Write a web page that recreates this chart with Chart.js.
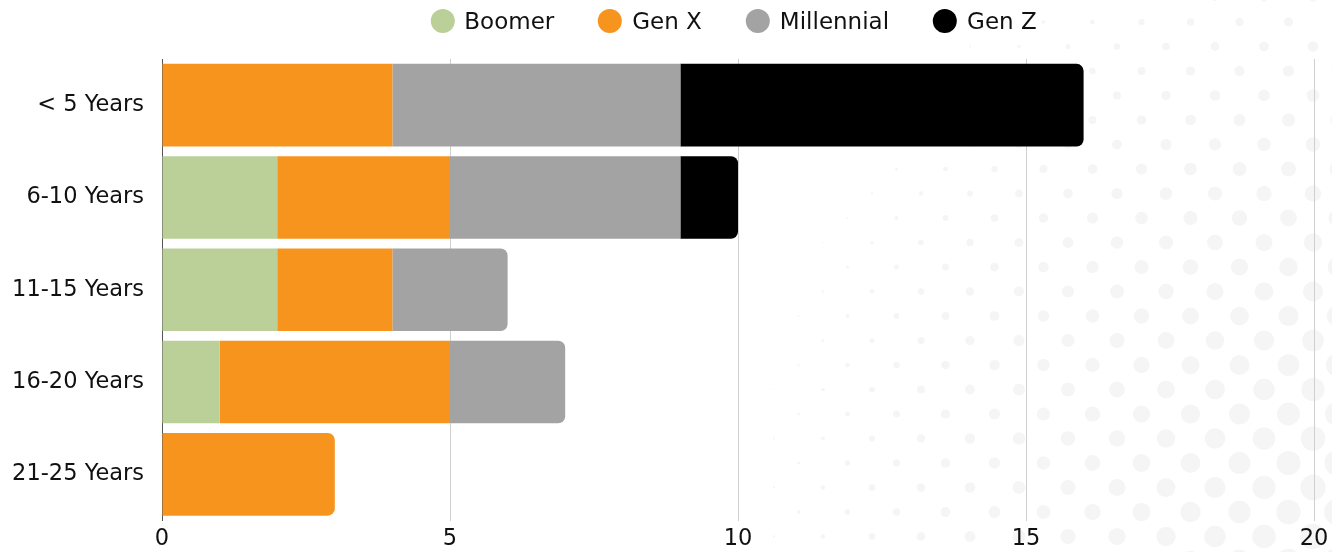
<!DOCTYPE html>
<html>
<head>
<meta charset="utf-8">
<title>Years of Experience by Generation</title>
<script src="https://cdn.jsdelivr.net/npm/chart.js@4.4.1/dist/chart.umd.min.js"></script>
<style>
  html, body { margin: 0; padding: 0; background: #ffffff; }
  #wrap { position: relative; width: 1332px; height: 552px; overflow: hidden; }
  #bg, #chart { position: absolute; left: 0; top: 0; }
  #legend {
    position: absolute; top: 8px; left: 733.5px; transform: translateX(-50%);
    display: flex; align-items: center; gap: 44px; white-space: nowrap;
    font-family: "DejaVu Sans", sans-serif; font-size: 23px; color: #111111;
    line-height: 26px;
  }
  #legend .item { display: flex; align-items: center; }
  #legend .dot { width: 24px; height: 24px; border-radius: 50%; margin-right: 10px; }
</style>
</head>
<body>
<div id="wrap">
  <canvas id="bg" width="1332" height="552"></canvas>
  <canvas id="chart" width="1332" height="552"></canvas>
  <div id="legend"></div>
</div>
<script>
// Tenure bands (rows) and head counts per generation
const categories = ['< 5 Years', '6-10 Years', '11-15 Years', '16-20 Years', '21-25 Years'];
const seriesNames = ['Boomer', 'Gen X', 'Millennial', 'Gen Z'];
const boomer     = [null, 2, 2, 1, null];
const genX       = [4, 3, 2, 4, 3];
const millennial = [5, 4, 2, 2, null];
const genZ       = [7, 1, null, null, null];
const xTicks     = [0, 5, 10, 15, 20];

const seriesColors = ['#bbcf98', '#f7941e', '#a3a3a3', '#000000'];
const FONT = '"DejaVu Sans", sans-serif';

// Soft halftone texture behind the plot, growing toward the lower right
(function drawHalftone() {
  const c = document.getElementById('bg').getContext('2d');
  c.fillStyle = '#ffffff';
  c.fillRect(0, 0, 1332, 552);
  c.fillStyle = '#f5f5f5';
  const step = 24.5, ox = 1043.5, oy = 169;
  for (let j = -8; j <= 17; j++) {
    for (let i = -24; i <= 14; i++) {
      if ((i + j) % 2 !== 0) continue;
      const x = ox + i * step, y = oy + j * step;
      const d = Math.hypot(1500 - x, 550 - y);
      const r = 16.94 - 0.0217 * d;
      if (r < 0.4) continue;
      c.beginPath();
      c.arc(x, y, r, 0, Math.PI * 2);
      c.fill();
    }
  }
})();

const seriesData = [boomer, genX, millennial, genZ];

const chart = new Chart(document.getElementById('chart'), {
  type: 'bar',
  data: {
    labels: categories,
    datasets: seriesNames.map((name, k) => ({
      label: name,
      data: seriesData[k],
      backgroundColor: seriesColors[k],
      borderWidth: 0,
      borderRadius: 7,
      borderSkipped: 'start',
      barPercentage: 0.895,
      categoryPercentage: 1
    }))
  },
  options: {
    indexAxis: 'y',
    responsive: false,
    animation: false,
    devicePixelRatio: 1,
    layout: { padding: { top: 59, right: 0, bottom: 0, left: 0 } },
    plugins: {
      legend: { display: false },
      tooltip: { enabled: false }
    },
    scales: {
      x: {
        stacked: true,
        min: 0,
        max: 20,
        afterBuildTicks(scale) { scale.ticks = xTicks.map(v => ({ value: v })); },
        grid: { color: '#cfcfcf', lineWidth: 1, drawTicks: false },
        border: { display: false },
        ticks: { color: '#111111', padding: 5, font: { family: FONT, size: 22.5 } },
        afterFit(scale) {
          scale.height = 31;
          scale.paddingLeft = 0;
          scale.paddingRight = 18;
        }
      },
      y: {
        stacked: true,
        grid: { display: false, drawTicks: false },
        border: { display: true, color: '#555555', width: 1 },
        ticks: { color: '#111111', padding: 18, font: { family: FONT, size: 22.5 } },
        afterFit(scale) { scale.width = 162; }
      }
    }
  }
});

// Legend built from the chart's own legend items
(function buildLegend() {
  const box = document.getElementById('legend');
  const items = chart.options.plugins.legend.labels.generateLabels(chart);
  items.forEach(it => {
    const el = document.createElement('div');
    el.className = 'item';
    const dot = document.createElement('span');
    dot.className = 'dot';
    dot.style.background = it.fillStyle;
    const txt = document.createElement('span');
    txt.textContent = it.text;
    el.appendChild(dot);
    el.appendChild(txt);
    box.appendChild(el);
  });
})();
</script>
</body>
</html>
